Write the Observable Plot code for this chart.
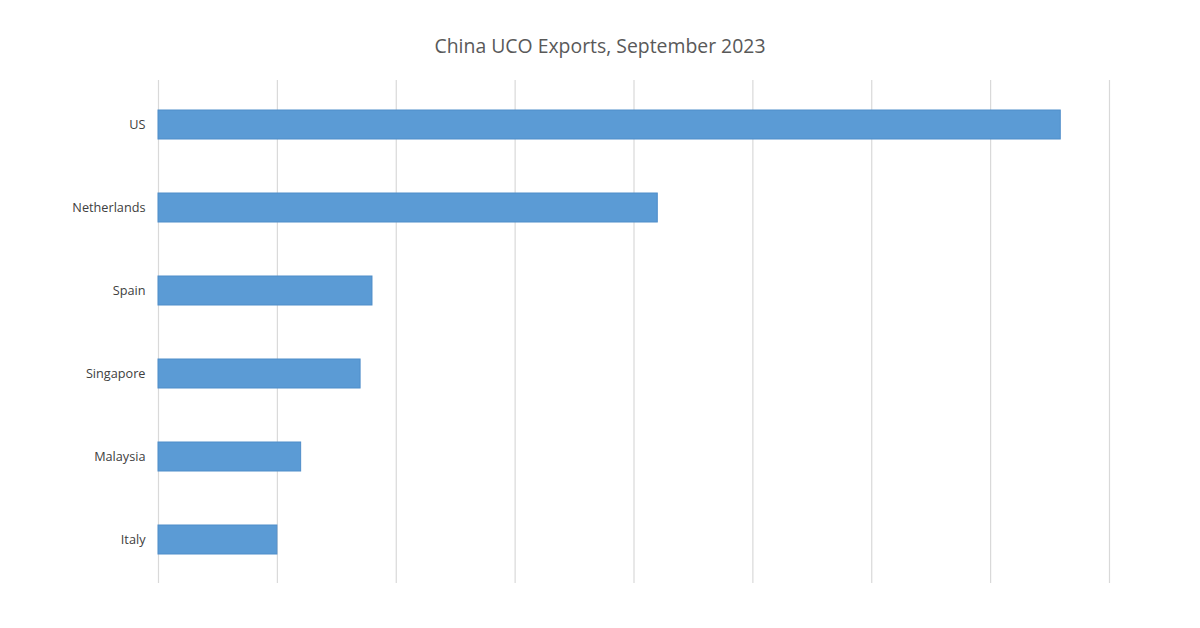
<!DOCTYPE html>
<html>
<head>
<meta charset="utf-8">
<script src="https://cdn.jsdelivr.net/npm/d3@7"></script>
<script src="https://cdn.jsdelivr.net/npm/@observablehq/plot@0.6"></script>
<style>
  html, body { margin: 0; padding: 0; background: #fff; }
  #title { height: 70px; width: 1200px; box-sizing: border-box; padding-top: 33px; text-align: center;
    font-family: "Open Sans", "Noto Sans", sans-serif; font-size: 19.4px; color: #595959; line-height: 26px; }
</style>
</head>
<body>
<div id="title">China UCO Exports, September 2023</div>
<div id="chart"></div>
<script>
const countries = ["US", "Netherlands", "Spain", "Singapore", "Malaysia", "Italy"];
const values = [7.59, 4.2, 1.8, 1.7, 1.2, 1.0];
const gridTicks = [0, 1, 2, 3, 4, 5, 6, 7, 8];

const data = countries.map((c, i) => ({country: c, value: values[i]}));

const chart = Plot.plot({
  width: 1200,
  height: 558,
  marginTop: 10,
  marginBottom: 45,
  marginLeft: 158,
  marginRight: 91,
  style: {fontFamily: "'Open Sans', 'Noto Sans', sans-serif", fontSize: "12.7px", color: "#404040", background: "#fff"},
  x: {domain: [0, 8], axis: null},
  y: {domain: countries, paddingInner: 0.655, paddingOuter: 0.3275, label: null},
  marks: [
    Plot.ruleX(gridTicks, {stroke: "#d9d9d9", strokeWidth: 1.2}),
    Plot.barX(data, {x: "value", y: "country", fill: "#5B9BD5", stroke: "#4F8DC9", strokeWidth: 1}),
    Plot.axisY({tickSize: 0, tickPadding: 13, fill: "#404040", fontSize: 12.7, label: null})
  ]
});
document.getElementById("chart").appendChild(chart);
</script>
</body>
</html>
